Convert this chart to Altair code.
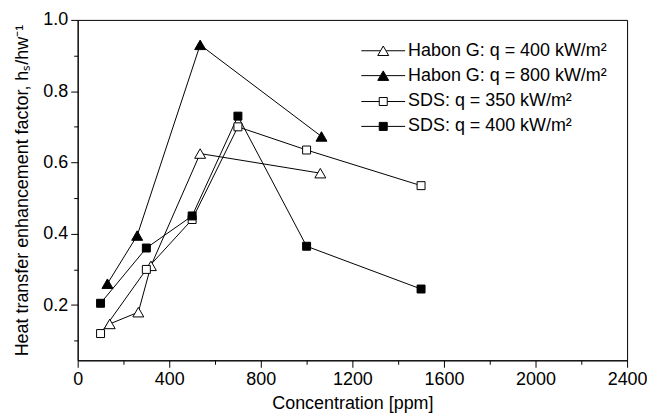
import altair as alt
import pandas as pd

# ---- data ----
names = ["Habon G: q = 400 kW/m²", "Habon G: q = 800 kW/m²",
         "SDS: q = 350 kW/m²", "SDS: q = 400 kW/m²"]

habon400_x = [140, 265, 320, 535, 1060]
habon400_y = [0.147, 0.180, 0.310, 0.625, 0.570]
habon800_x = [130, 260, 535, 1065]
habon800_y = [0.260, 0.395, 0.930, 0.673]
sds350_x = [100, 300, 500, 700, 1000, 1500]
sds350_y = [0.120, 0.300, 0.440, 0.700, 0.635, 0.535]
sds400_x = [100, 300, 500, 700, 1000, 1500]
sds400_y = [0.205, 0.360, 0.450, 0.730, 0.365, 0.245]

x_ticks = list(range(0, 2401, 200))
y_ticks = [round(0.1 * i, 1) for i in range(1, 11)]

rows = []
for name, xs, ys in zip(names,
                        [habon400_x, habon800_x, sds350_x, sds400_x],
                        [habon400_y, habon800_y, sds350_y, sds400_y]):
    for i, (xv, yv) in enumerate(zip(xs, ys)):
        rows.append({"series": name, "conc": xv, "val": yv, "order": i})
df = pd.DataFrame(rows)

FONT = "Liberation Sans"

x_enc = alt.X("conc:Q",
              scale=alt.Scale(domain=[0, 2400], nice=False, zero=False),
              axis=alt.Axis(title="Concentration [ppm]", values=x_ticks,
                            labelExpr="datum.value % 400 === 0 ? datum.label : ''",
                            tickSize={"condition": {"test": "datum.value % 400 === 0", "value": 7}, "value": 4},
                            labelPadding=3, titlePadding=6, labelFlush=False,
                            labelOverlap=False, grid=False, format="d"))
y_enc = alt.Y("val:Q",
              scale=alt.Scale(domain=[0.045, 1.0], nice=False, zero=False),
              axis=alt.Axis(title="Heat transfer enhancement factor, hₛ/hw⁻¹",
                            values=y_ticks,
                            labelExpr="round(datum.value*10) % 2 === 0 ? format(datum.value, '.1f') : ''",
                            tickSize={"condition": {"test": "round(datum.value*10) % 2 === 0", "value": 7}, "value": 4},
                            labelPadding=3, titlePadding=11, labelFlush=False,
                            labelOverlap=False, grid=False))

base = alt.Chart(df)

lines = base.mark_line(color="black", strokeWidth=1).encode(
    x=x_enc, y=y_enc, detail="series:N", order="order:Q")

tri_path = "M-4,0H-0.55M0.55,0H4M0,-0.866L1,0.866L-1,0.866Z"
sq_path = "M-4,0H-0.73M0.73,0H4M-0.73,-0.73H0.73V0.73H-0.73Z"

habon = base.transform_filter(
    alt.FieldOneOfPredicate(field="series", oneOf=names[:2])
).mark_point(shape="triangle-up", size=121, filled=True, stroke="black",
             strokeWidth=1, opacity=1).encode(
    x=x_enc, y=y_enc,
    fill=alt.Fill("series:N",
                  scale=alt.Scale(domain=names[:2], range=["white", "black"]),
                  legend=alt.Legend(title=None, orient="none", legendX=298, legendY=22,
                                    symbolType=tri_path, symbolSize=121,
                                    symbolStrokeColor="black", symbolStrokeWidth=1,
                                    labelOffset=16, rowPadding=7, padding=0, labelLimit=0)))

sds = base.transform_filter(
    alt.FieldOneOfPredicate(field="series", oneOf=names[2:])
).mark_point(shape="square", size=64, filled=True, stroke="black",
             strokeWidth=1, opacity=1).encode(
    x=x_enc, y=y_enc,
    fill=alt.Fill("series:N",
                  scale=alt.Scale(domain=names[2:], range=["white", "black"]),
                  legend=alt.Legend(title=None, orient="none", legendX=298, legendY=73,
                                    symbolType=sq_path, symbolSize=121,
                                    symbolStrokeColor="black", symbolStrokeWidth=1,
                                    labelOffset=16, rowPadding=7, padding=0, labelLimit=0)))

chart = alt.layer(lines, habon, sds).resolve_scale(fill="independent").properties(
    width=552, height=342,
    autosize=alt.AutoSizeParams(type="none"),
    padding={"left": 70, "top": 11, "right": 20, "bottom": 55},
    background="white",
).configure_view(stroke="black", strokeWidth=1).configure_axis(
    domainColor="black", tickColor="black", labelColor="black", titleColor="black",
    labelFont=FONT, titleFont=FONT, labelFontSize=18, titleFontSize=18,
    titleFontWeight="normal", domainWidth=1, tickWidth=1,
).configure_legend(labelFont=FONT, labelFontSize=18, labelColor="black")

chart.save("out.html", embed_options={"renderer": "svg", "actions": False})
